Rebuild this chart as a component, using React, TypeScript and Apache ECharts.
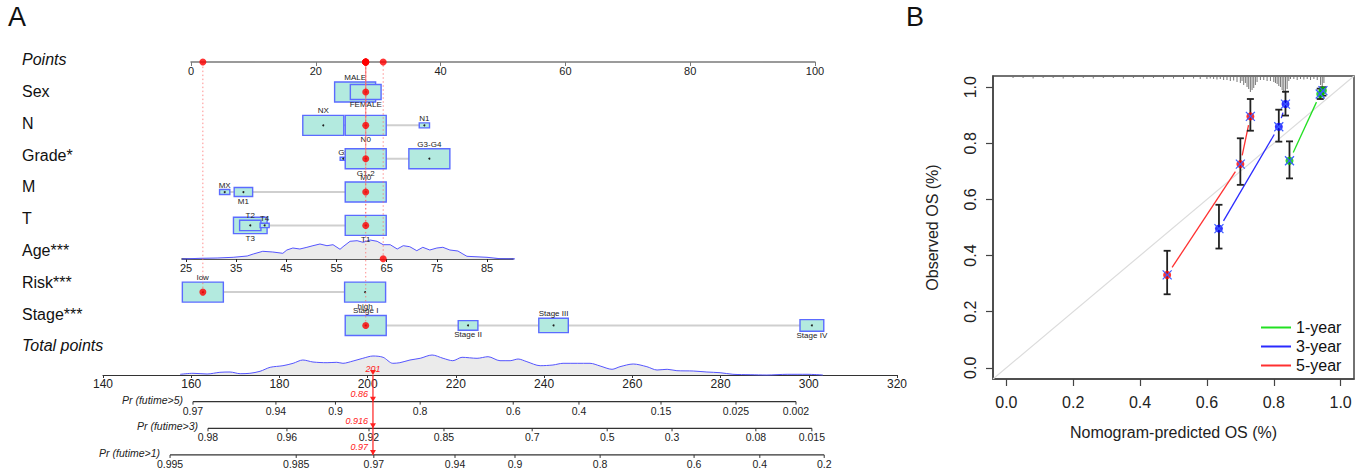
import { useEffect, useRef } from 'react';
import * as echarts from 'echarts';

const FONT = '"Liberation Sans", Arial, Helvetica, sans-serif';

// ---------------- Panel A : nomogram ----------------
const rowLabels = ['Points', 'Sex', 'N', 'Grade*', 'M', 'T', 'Age***', 'Risk***', 'Stage***', 'Total points'];

const levelNames = ['MALE', 'FEMALE', 'NX', 'N0', 'N1', 'Gx', 'G1-2', 'G3-G4', 'MX', 'M1', 'M0', 'T3', 'T2', 'T4', 'T1', 'low', 'high', 'Stage I', 'Stage II', 'Stage III', 'Stage IV'];
const levelRow = [0, 0, 1, 1, 1, 2, 2, 2, 3, 3, 3, 4, 4, 4, 4, 6, 6, 7, 7, 7, 7];
const levelPoints = [26.3, 28.0, 21.2, 28.0, 37.4, 24.4, 28.0, 38.2, 5.4, 8.4, 28.0, 9.5, 9.5, 11.8, 28.0, 1.9, 27.9, 28.0, 44.4, 58.1, 99.5];
const levelScale = [1.0, 0.75, 1.0, 1.0, 0.25, 0.15, 1.0, 1.0, 0.25, 0.45, 1.0, 0.82, 0.52, 0.22, 1.0, 1.0, 1.0, 1.0, 0.48, 0.72, 0.58];
const levelLabelAbove = [true, false, true, false, true, true, false, true, true, false, true, false, true, true, false, true, false, true, false, true, false];

const ageTicks = [25, 35, 45, 55, 65, 75, 85];
const ageDensity: [number, number][] = [
  [24.2, 0], [27.8, 0.7], [31.2, 1], [34.4, 1.7], [37.2, 3], [38.4, 5], [40.3, 7.7], [42.3, 7],
  [44.3, 5.7], [45.1, 9], [46.3, 11], [47.7, 10], [49.1, 11.7], [50.3, 13.3], [51.7, 15], [53.1, 13.3],
  [54.3, 14.3], [55.7, 9.7], [56.3, 12.3], [57.7, 17.7], [59.1, 18.3], [60.3, 16.7], [61.7, 19], [63.1, 17.7],
  [64.3, 14.3], [65.7, 14.3], [67.1, 10], [68.3, 13.3], [69.6, 12.3], [71.0, 8.3], [72.2, 11.7], [73.6, 9],
  [75.0, 11], [76.2, 11.7], [77.6, 9], [79.2, 8], [80.2, 5], [81.0, 2.7], [85.0, 1.7], [87.6, 0.3], [92.2, 0],
];
const totalDensity: [number, number][] = [
  [157.5, 0.7], [160.4, 1.7], [163.6, 1], [166.5, 2.7], [168.8, 3], [171.1, 1.3], [173.3, 1.7], [175.6, 3.7],
  [177.9, 7.7], [180.8, 9.3], [183.1, 11.7], [185.3, 15], [187.6, 13], [190.8, 12.3], [193.0, 12.7], [194.4, 11.7],
  [196.7, 14], [198.9, 16.7], [201.2, 19], [203.5, 17.7], [205.7, 11.7], [207.3, 12.3], [209.6, 15], [211.9, 16.7],
  [214.6, 20], [217.1, 16.7], [219.3, 14.3], [221.4, 17.7], [224.8, 16.7], [227.3, 18.3], [230.0, 14.3], [232.3, 14.3],
  [234.1, 16], [236.1, 13.3], [239.1, 9.3], [242.0, 10], [244.3, 11.7], [247.5, 11.7], [250.4, 11.7], [252.7, 9],
  [255.4, 5.7], [257.2, 8.3], [260.2, 11], [263.3, 8.3], [265.6, 5], [267.9, 5.7], [270.1, 4.3], [273.8, 4],
  [276.9, 3], [279.9, 2.3], [282.8, 0.7], [286.7, 0.3], [290.5, 0], [295.1, 0.7], [299.6, 0.7], [303.2, 0],
];

const patientPoints = [28.0, 28.0, 28.0, 28.0, 28.0, 30.8, 1.9, 28.0];
const patientTotal = 201.2;
const patientTotalLabel = '201';
const patientProbs = ['0.86', '0.916', '0.97'];

const probNames = ['Pr (futime>5)', 'Pr (futime>3)', 'Pr (futime>1)'];
const pr5Labels = ['0.97', '0.94', '0.9', '0.8', '0.6', '0.4', '0.15', '0.025', '0.002'];
const pr5Total = [160.4, 179.2, 192.7, 211.9, 233.0, 247.9, 266.5, 283.5, 297.1];
const pr3Labels = ['0.98', '0.96', '0.92', '0.85', '0.7', '0.5', '0.3', '0.08', '0.015'];
const pr3Total = [163.8, 181.7, 200.3, 217.3, 237.3, 254.3, 269.0, 288.0, 300.7];
const pr1Labels = ['0.995', '0.985', '0.97', '0.94', '0.9', '0.8', '0.6', '0.4', '0.2'];
const pr1Total = [155.2, 183.8, 201.4, 219.8, 233.4, 252.7, 274.0, 288.9, 303.5];

// ---------------- Panel B : calibration ----------------
const calTicks = [0, 0.2, 0.4, 0.6, 0.8, 1.0];
const horizons = ['1-year', '3-year', '5-year'];
const lineColors = ['#22e022', '#2a2aff', '#ff3030'];
const pointColors = ['#00c800', '#0000ff', '#ff0000'];
const predOneYear = [0.847, 0.939, 0.947];
const obsOneYear = [0.738, 0.976, 0.988];
const loOneYear = [0.675, 0.958, 0.970];
const hiOneYear = [0.807, 0.995, 1.0];
const predThreeYear = [0.636, 0.815, 0.835];
const obsThreeYear = [0.496, 0.859, 0.940];
const loThreeYear = [0.425, 0.806, 0.899];
const hiThreeYear = [0.581, 0.920, 0.984];
const predFiveYear = [0.481, 0.700, 0.730];
const obsFiveYear = [0.331, 0.726, 0.896];
const loFiveYear = [0.262, 0.652, 0.845];
const hiFiveYear = [0.417, 0.818, 0.958];

const riskHist: [number, number][] = [
  [0.02, 1], [0.05, 1], [0.08, 1.5], [0.11, 1], [0.14, 1], [0.17, 1.5], [0.20, 1], [0.23, 1], [0.26, 1.5],
  [0.29, 1], [0.32, 1], [0.35, 1.5], [0.38, 1], [0.41, 1.5], [0.44, 1], [0.47, 1.5], [0.50, 1.5], [0.53, 2],
  [0.56, 1.5], [0.58, 2], [0.60, 2], [0.61, 1.5], [0.62, 2], [0.63, 2.5], [0.64, 2], [0.65, 3], [0.66, 3],
  [0.67, 4], [0.68, 3.5], [0.69, 5], [0.70, 6], [0.705, 4], [0.71, 8], [0.715, 6], [0.72, 10], [0.725, 12],
  [0.73, 15], [0.735, 13], [0.74, 11], [0.745, 8], [0.75, 5], [0.76, 3], [0.77, 3], [0.78, 4], [0.79, 4],
  [0.80, 5], [0.805, 6], [0.81, 7], [0.815, 9], [0.82, 10], [0.825, 13], [0.83, 16], [0.835, 17], [0.84, 12],
  [0.845, 4], [0.85, 2], [0.86, 2], [0.87, 3], [0.88, 2], [0.89, 2.5], [0.90, 2], [0.91, 3], [0.92, 2],
  [0.93, 3], [0.94, 8], [0.945, 12], [0.95, 6],
];

function buildOption(): any {
  const txt = (x: number, y: number, text: string, o: any = {}) => ({
    type: 'text',
    x,
    y,
    style: {
      text,
      fill: o.fill || '#222',
      fontSize: o.fontSize || 10,
      fontFamily: FONT,
      fontStyle: o.fontStyle || 'normal',
      align: o.align || 'center',
      verticalAlign: o.verticalAlign || 'middle',
    },
  });

  const rowsWithLevels = [0, 1, 2, 3, 4, 6, 7];
  const rowRanges = rowsWithLevels.map((r) => {
    const pts = levelPoints.filter((_, i) => levelRow[i] === r);
    return [Math.min(...pts), Math.max(...pts), r];
  });

  const probSets = [
    { labels: pr5Labels, total: pr5Total },
    { labels: pr3Labels, total: pr3Total },
    { labels: pr1Labels, total: pr1Total },
  ];
  const probLines = probSets.map((s, r) => [Math.min(...s.total), Math.max(...s.total), r]);
  const tickList: { t: number; row: number; text: string }[] = [];
  probSets.forEach((s, r) => s.total.forEach((t, i) => tickList.push({ t, row: r, text: s.labels[i] })));

  const cal = [
    { pred: predOneYear, obs: obsOneYear, lo: loOneYear, hi: hiOneYear },
    { pred: predThreeYear, obs: obsThreeYear, lo: loThreeYear, hi: hiThreeYear },
    { pred: predFiveYear, obs: obsFiveYear, lo: loFiveYear, hi: hiFiveYear },
  ];

  const series: any[] = [];

  // --- nomogram row connector lines
  series.push({
    type: 'custom', xAxisIndex: 1, yAxisIndex: 1, z: 1, silent: true,
    data: rowRanges,
    renderItem: (_p: any, api: any) => {
      const a = api.coord([api.value(0), api.value(2)]);
      const b = api.coord([api.value(1), api.value(2)]);
      return { type: 'line', shape: { x1: a[0], y1: a[1], x2: b[0], y2: b[1] }, style: { stroke: '#cfcfcf', lineWidth: 2 } };
    },
  });
  // --- boxes
  series.push({
    type: 'custom', xAxisIndex: 1, yAxisIndex: 1, z: 2, silent: true,
    data: levelNames.map((_, i) => [levelPoints[i], levelRow[i], levelScale[i], i]),
    renderItem: (_p: any, api: any) => {
      const c = api.coord([api.value(0), api.value(1)]);
      const s = api.value(2);
      const idx = api.value(3);
      const w = 41 * s;
      const h = 20 * s;
      const above = levelLabelAbove[idx];
      return {
        type: 'group',
        children: [
          { type: 'rect', shape: { x: c[0] - w / 2, y: c[1] - h / 2, width: w, height: h }, style: { fill: '#b3eadf', stroke: '#5b6bff', lineWidth: 1.4 } },
          { type: 'circle', shape: { cx: c[0], cy: c[1], r: 1 }, style: { fill: '#222' } },
          txt(c[0], above ? c[1] - h / 2 - 0.5 : c[1] + h / 2 + 0.5, levelNames[idx], { fontSize: 8, verticalAlign: above ? 'bottom' : 'top' }),
        ],
      };
    },
  });
  // --- dotted red guide lines
  series.push({
    type: 'custom', xAxisIndex: 1, yAxisIndex: 1, z: 3, silent: true,
    data: patientPoints.map((p, r) => [p, r]),
    renderItem: (_p: any, api: any) => {
      const c = api.coord([api.value(0), api.value(1)]);
      const top = api.coord([api.value(0), -0.9])[1];
      return { type: 'line', shape: { x1: c[0], y1: c[1], x2: c[0], y2: top }, style: { stroke: '#ff6a6a', lineWidth: 1, lineDash: [1.5, 2.5], opacity: 0.75 } };
    },
  });
  // --- red dots (patient)
  series.push({
    type: 'scatter', xAxisIndex: 1, yAxisIndex: 1, z: 4, silent: true, symbolSize: 7,
    itemStyle: { color: '#ff0000' },
    data: [...patientPoints.map((p, r) => [p, r]), ...patientPoints.map((p) => [p, -0.9])],
  });
  // --- age density
  series.push({
    type: 'line', xAxisIndex: 2, yAxisIndex: 2, z: 1, silent: true, symbol: 'none', clip: false,
    data: ageDensity,
    lineStyle: { color: '#5555ff', width: 1 },
    areaStyle: { color: '#ebebeb', opacity: 1 },
  });
  // --- total points density
  series.push({
    type: 'line', xAxisIndex: 3, yAxisIndex: 3, z: 1, silent: true, symbol: 'none', clip: false, smooth: 0.3,
    data: totalDensity,
    lineStyle: { color: '#5555ff', width: 1 },
    areaStyle: { color: '#ebebeb', opacity: 1 },
  });
  // --- probability axes lines + names
  series.push({
    type: 'custom', xAxisIndex: 4, yAxisIndex: 4, z: 2, silent: true,
    data: probLines,
    renderItem: (p: any, api: any) => {
      const a = api.coord([api.value(0), api.value(2)]);
      const b = api.coord([api.value(1), api.value(2)]);
      return {
        type: 'group',
        children: [
          { type: 'line', shape: { x1: a[0], y1: a[1], x2: b[0], y2: b[1] }, style: { stroke: '#333', lineWidth: 1.2 } },
          txt(a[0] - 10, a[1] - 2, probNames[p.dataIndex], { fontSize: 10.5, fontStyle: 'italic', align: 'right' }),
        ],
      };
    },
  });
  // --- probability ticks
  series.push({
    type: 'custom', xAxisIndex: 4, yAxisIndex: 4, z: 2, silent: true,
    data: tickList.map((d) => [d.t, d.row]),
    renderItem: (p: any, api: any) => {
      const c = api.coord([api.value(0), api.value(1)]);
      return {
        type: 'group',
        children: [
          { type: 'line', shape: { x1: c[0], y1: c[1], x2: c[0], y2: c[1] + 3 }, style: { stroke: '#333', lineWidth: 1 } },
          txt(c[0], c[1] + 9, tickList[p.dataIndex].text, { fontSize: 10.5 }),
        ],
      };
    },
  });
  // --- patient total marker and arrows
  series.push({
    type: 'custom', xAxisIndex: 4, yAxisIndex: 4, z: 5, silent: true,
    data: [[patientTotal, 0]],
    renderItem: (_p: any, api: any) => {
      const v = api.value(0);
      const x = api.coord([v, 0])[0];
      const ys = [-1, 0, 1, 2].map((r) => api.coord([v, r])[1]);
      const children: any[] = [
        { type: 'line', shape: { x1: x, y1: ys[0], x2: x, y2: ys[3] }, style: { stroke: '#ff2020', lineWidth: 1.2 } },
      ];
      ys.forEach((y) => {
        children.push({ type: 'polygon', shape: { points: [[x - 3, y - 5], [x + 3, y - 5], [x, y]] }, style: { fill: '#ff2020' } });
      });
      children.push(txt(x, ys[0] - 6, patientTotalLabel, { fontSize: 9, fontStyle: 'italic', fill: '#ff2020' }));
      patientProbs.forEach((t, i) => {
        children.push(txt(x - 5, ys[i + 1] - 7.5, t, { fontSize: 9, fontStyle: 'italic', fill: '#ff2020', align: 'right' }));
      });
      return { type: 'group', children };
    },
  });

  // --- Panel B
  series.push({
    type: 'line', xAxisIndex: 5, yAxisIndex: 5, z: 1, silent: true, symbol: 'none',
    data: [[-0.04, -0.04], [1.04, 1.04]],
    lineStyle: { color: '#dcdcdc', width: 1.2 },
  });
  series.push({
    type: 'bar', xAxisIndex: 6, yAxisIndex: 6, z: 1, silent: true, barWidth: 1,
    data: riskHist,
    itemStyle: { color: '#777' },
  });
  cal.forEach((c, k) => {
    const segs = c.pred.slice(0, -1).map((p, i) => [p, c.obs[i], c.pred[i + 1], c.obs[i + 1]]);
    series.push({
      type: 'custom', name: horizons[k], xAxisIndex: 5, yAxisIndex: 5, z: 2, silent: true,
      itemStyle: { color: lineColors[k] },
      data: segs,
      renderItem: (_p: any, api: any) => {
        const a = api.coord([api.value(0), api.value(1)]);
        const b = api.coord([api.value(2), api.value(3)]);
        const dx = b[0] - a[0];
        const dy = b[1] - a[1];
        const L = Math.hypot(dx, dy);
        const g = 9;
        if (L <= 2 * g) return null;
        const ux = dx / L;
        const uy = dy / L;
        return { type: 'line', shape: { x1: a[0] + ux * g, y1: a[1] + uy * g, x2: b[0] - ux * g, y2: b[1] - uy * g }, style: { stroke: lineColors[k], lineWidth: 1.3 } };
      },
    });
  });
  cal.forEach((c) => {
    series.push({
      type: 'custom', xAxisIndex: 5, yAxisIndex: 5, z: 3, silent: true,
      data: c.pred.map((p, i) => [p, c.lo[i], c.hi[i]]),
      renderItem: (_p: any, api: any) => {
        const a = api.coord([api.value(0), api.value(1)]);
        const b = api.coord([api.value(0), api.value(2)]);
        const st = { stroke: '#222', lineWidth: 1.8 };
        return {
          type: 'group',
          children: [
            { type: 'line', shape: { x1: a[0], y1: a[1], x2: b[0], y2: b[1] }, style: st },
            { type: 'line', shape: { x1: a[0] - 3.5, y1: a[1], x2: a[0] + 3.5, y2: a[1] }, style: st },
            { type: 'line', shape: { x1: b[0] - 3.5, y1: b[1], x2: b[0] + 3.5, y2: b[1] }, style: st },
          ],
        };
      },
    });
  });
  cal.forEach((c, k) => {
    series.push({
      type: 'scatter', xAxisIndex: 5, yAxisIndex: 5, z: 4, silent: true, symbolSize: 8,
      itemStyle: { color: pointColors[k] },
      data: c.pred.map((p, i) => [p, c.obs[i]]),
    });
  });
  series.push({
    type: 'custom', xAxisIndex: 5, yAxisIndex: 5, z: 5, silent: true,
    data: cal.flatMap((c) => c.pred.map((p, i) => [p, c.obs[i]])),
    renderItem: (_p: any, api: any) => {
      const c = api.coord([api.value(0), api.value(1)]);
      const st = { stroke: '#3a5cff', lineWidth: 1.2 };
      return {
        type: 'group',
        children: [
          { type: 'line', shape: { x1: c[0] - 4.5, y1: c[1] - 4.5, x2: c[0] + 4.5, y2: c[1] + 4.5 }, style: st },
          { type: 'line', shape: { x1: c[0] - 4.5, y1: c[1] + 4.5, x2: c[0] + 4.5, y2: c[1] - 4.5 }, style: st },
        ],
      };
    },
  });

  const hidden = (gridIndex: number, extra: any = {}) => ({ type: 'value', gridIndex, show: false, ...extra });
  const calAxisCommon = {
    type: 'value', gridIndex: 5, min: -0.04, max: 1.04,
    axisLine: { show: true, onZero: false, lineStyle: { color: '#444', width: 1.5 } },
    axisTick: { show: true, length: 7, customValues: calTicks, lineStyle: { color: '#444', width: 1.2 } },
    splitLine: { show: false },
    nameLocation: 'middle',
    nameTextStyle: { fontSize: 16, color: '#222', fontFamily: FONT },
  };

  return {
    animation: false,
    backgroundColor: '#fff',
    textStyle: { fontFamily: FONT },
    grid: [
      { left: 100, top: 43.7, width: 10, height: 318 },
      { left: 191, top: 62, width: 624, height: 280 },
      { left: 182, top: 235, width: 331.1, height: 24 },
      { left: 103, top: 353, width: 794, height: 22 },
      { left: 103, top: 388.3, width: 794, height: 80 },
      { left: 993, top: 76, width: 361, height: 303, show: true, borderColor: '#444', borderWidth: 1.5 },
      { left: 993, top: 77, width: 361, height: 20 },
    ],
    xAxis: [
      hidden(0),
      {
        type: 'value', gridIndex: 1, position: 'top', min: 0, max: 100, interval: 20,
        axisLine: { show: true, onZero: false, lineStyle: { color: '#7a7a7a', width: 1.5 } },
        axisTick: { show: true, inside: true, length: 4, lineStyle: { color: '#7a7a7a' } },
        axisLabel: { inside: true, margin: 3, fontSize: 11, color: '#222', fontFamily: FONT },
        splitLine: { show: false },
      },
      {
        type: 'value', gridIndex: 2, min: 24.2, max: 90.2,
        axisLine: { show: true, onZero: false, lineStyle: { color: '#222', width: 1.5 } },
        axisTick: { show: true, length: 3, customValues: ageTicks, lineStyle: { color: '#222' } },
        axisLabel: { customValues: ageTicks, margin: 3, fontSize: 11, color: '#222', fontFamily: FONT },
        splitLine: { show: false },
      },
      {
        type: 'value', gridIndex: 3, min: 140, max: 320, interval: 20,
        axisLine: { show: true, onZero: false, lineStyle: { color: '#333', width: 1.2 } },
        axisTick: { show: true, length: 3, lineStyle: { color: '#333' } },
        axisLabel: { margin: 3, fontSize: 12, color: '#222', fontFamily: FONT },
        splitLine: { show: false },
      },
      hidden(4, { min: 140, max: 320 }),
      {
        ...calAxisCommon,
        axisLabel: { customValues: calTicks, formatter: (v: number) => v.toFixed(1), fontSize: 16, color: '#222', margin: 15, fontFamily: FONT },
        name: 'Nomogram-predicted OS (%)',
        nameGap: 45,
      },
      hidden(6, { min: -0.04, max: 1.04 }),
    ],
    yAxis: [
      {
        type: 'category', gridIndex: 0, data: rowLabels, inverse: true,
        axisLine: { show: false }, axisTick: { show: false },
        axisLabel: {
          margin: 78, align: 'left', fontSize: 16, color: '#111', fontFamily: FONT,
          formatter: (v: string) => (v === 'Points' || v === 'Total points' ? `{i|${v}}` : v),
          rich: { i: { fontStyle: 'italic', fontSize: 16, color: '#111', fontFamily: FONT } },
        },
      },
      hidden(1, { min: -0.9, max: 7.496, inverse: true }),
      hidden(2, { min: 0, max: 24 }),
      hidden(3, { min: 0, max: 22 }),
      hidden(4, { min: -0.5, max: 2.5, inverse: true }),
      {
        ...calAxisCommon,
        axisLabel: { customValues: calTicks, rotate: 90, formatter: (v: number) => v.toFixed(1), fontSize: 16, color: '#222', margin: 15, fontFamily: FONT },
        name: 'Observed OS (%)',
        nameGap: 53,
        nameRotate: 90,
      },
      hidden(6, { min: 0, max: 20, inverse: true }),
    ],
    legend: {
      data: horizons.map((h, k) => ({ name: h, itemStyle: { color: lineColors[k] } })),
      orient: 'vertical', left: 1256, top: 313, itemWidth: 30, itemHeight: 2, icon: 'rect', itemGap: 0,
      selectedMode: false,
      textStyle: { fontSize: 16, color: '#111', lineHeight: 19, fontFamily: FONT },
    },
    graphic: [
      { type: 'text', left: 8, top: 3, style: { text: 'A', fontSize: 27, fill: '#111', fontFamily: FONT } },
      { type: 'text', left: 906, top: 3, style: { text: 'B', fontSize: 27, fill: '#111', fontFamily: FONT } },
    ],
    series,
  };
}

export default function App() {
  const ref = useRef<HTMLDivElement>(null);
  useEffect(() => {
    if (!ref.current) return;
    const chart = echarts.init(ref.current, null, { renderer: 'svg' });
    chart.setOption(buildOption());
    return () => chart.dispose();
  }, []);
  return <div ref={ref} style={{ position: 'absolute', left: 0, top: 0, width: 1370, height: 472, background: '#fff' }} />;
}
